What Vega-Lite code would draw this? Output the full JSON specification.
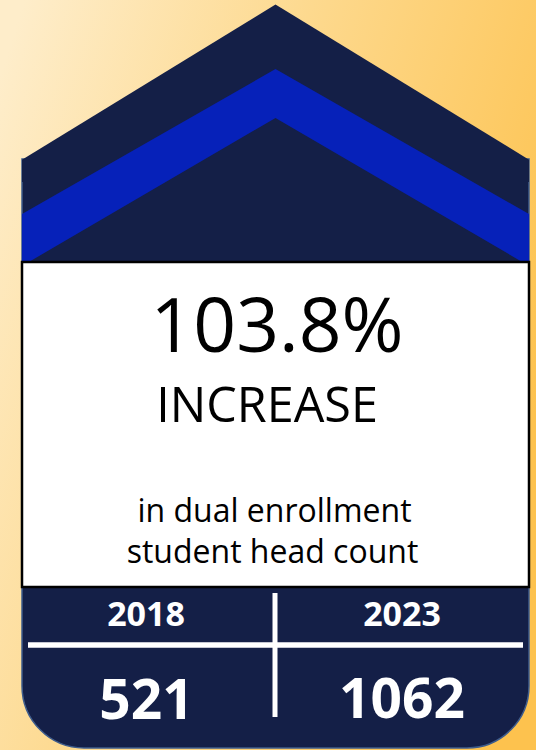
{
  "$schema": "https://vega.github.io/schema/vega-lite/v6.json",
  "width": 536,
  "height": 750,
  "autosize": {"type": "fit", "contains": "padding"},
  "padding": 0,
  "background": "#fde2a8",
  "config": {
    "view": {"stroke": null},
    "axis": {"disable": true},
    "text": {"font": "Open Sans"}
  },
  "datasets": {
    "summary": [{"metric": "dual enrollment head count increase", "pct": 1.038}],
    "counts": [
      {"year": "2018", "count": 521},
      {"year": "2023", "count": 1062}
    ]
  },
  "data": {"name": "summary"},
  "layer": [
    {
      "mark": {
        "type": "rect",
        "color": {
          "gradient": "linear",
          "x1": 0, "y1": 0.1, "x2": 1, "y2": 0.55,
          "stops": [
            {"offset": 0, "color": "#feedca"},
            {"offset": 0.45, "color": "#fdd98e"},
            {"offset": 1, "color": "#fdc24e"}
          ]
        }
      },
      "encoding": {
        "x": {"datum": 0, "type": "quantitative", "scale": {"domain": [0, 536], "nice": false, "zero": false}},
        "x2": {"datum": 536},
        "y": {"datum": 0, "type": "quantitative", "scale": {"domain": [0, 750], "nice": false, "zero": false, "reverse": true}},
        "y2": {"datum": 750}
      }
    },
    {
      "mark": {
        "type": "rect",
        "fill": "#141f47",
        "stroke": "#3e5c8c",
        "strokeWidth": 1.5,
        "cornerRadiusBottomLeft": 62,
        "cornerRadiusBottomRight": 62
      },
      "encoding": {
        "x": {"datum": 22, "type": "quantitative"},
        "x2": {"datum": 529},
        "y": {"datum": 159, "type": "quantitative"},
        "y2": {"datum": 748}
      }
    },
    {
      "mark": {
        "type": "point",
        "shape": "M-1,0.612L0,0L1,0.612L1,0.7L-1,0.7Z",
        "size": 257049,
        "filled": true,
        "fill": "#141f47",
        "strokeWidth": 0,
        "opacity": 1
      },
      "encoding": {
        "x": {"datum": 275.5, "type": "quantitative"},
        "y": {"datum": 4.5, "type": "quantitative"}
      }
    },
    {
      "mark": {
        "type": "point",
        "shape": "M-1,0.572L0,0L1,0.572L1,0.777L0,0.193L-1,0.777Z",
        "size": 257049,
        "filled": true,
        "fill": "#0621b9",
        "strokeWidth": 0,
        "opacity": 1
      },
      "encoding": {
        "x": {"datum": 275.5, "type": "quantitative"},
        "y": {"datum": 69, "type": "quantitative"}
      }
    },
    {
      "mark": {"type": "rect", "fill": "#ffffff", "stroke": "#000000", "strokeWidth": 2.5},
      "encoding": {
        "x": {"datum": 22, "type": "quantitative"},
        "x2": {"datum": 529},
        "y": {"datum": 262, "type": "quantitative"},
        "y2": {"datum": 587}
      }
    },
    {
      "mark": {"type": "text", "fontSize": 75, "baseline": "alphabetic", "align": "center", "color": "#000000"},
      "encoding": {
        "x": {"datum": 277, "type": "quantitative"},
        "y": {"datum": 352, "type": "quantitative"},
        "text": {"field": "pct", "type": "quantitative", "format": ".1%"}
      }
    },
    {
      "mark": {"type": "text", "text": "INCREASE", "fontSize": 48.5, "baseline": "alphabetic", "align": "center", "color": "#000000"},
      "encoding": {
        "x": {"datum": 267, "type": "quantitative"},
        "y": {"datum": 422, "type": "quantitative"}
      }
    },
    {
      "mark": {"type": "text", "text": "in dual enrollment", "fontSize": 32, "baseline": "alphabetic", "align": "center", "color": "#000000"},
      "encoding": {
        "x": {"datum": 274.5, "type": "quantitative"},
        "y": {"datum": 522, "type": "quantitative"}
      }
    },
    {
      "mark": {"type": "text", "text": "student head count", "fontSize": 32, "baseline": "alphabetic", "align": "center", "color": "#000000"},
      "encoding": {
        "x": {"datum": 272.5, "type": "quantitative"},
        "y": {"datum": 563, "type": "quantitative"}
      }
    },
    {
      "mark": {"type": "rule", "color": "#ffffff", "strokeWidth": 5.5},
      "encoding": {
        "x": {"datum": 28, "type": "quantitative"},
        "x2": {"datum": 523},
        "y": {"datum": 645, "type": "quantitative"}
      }
    },
    {
      "mark": {"type": "rule", "color": "#ffffff", "strokeWidth": 5},
      "encoding": {
        "x": {"datum": 275, "type": "quantitative"},
        "y": {"datum": 593, "type": "quantitative"},
        "y2": {"datum": 717}
      }
    },
    {
      "data": {"name": "counts"},
      "transform": [{"filter": "datum.year === '2018'"}],
      "mark": {"type": "text", "fontSize": 34, "fontWeight": "bold", "baseline": "alphabetic", "align": "center", "color": "#ffffff"},
      "encoding": {
        "x": {"datum": 146, "type": "quantitative"},
        "y": {"datum": 626, "type": "quantitative"},
        "text": {"field": "year", "type": "nominal"}
      }
    },
    {
      "data": {"name": "counts"},
      "transform": [{"filter": "datum.year === '2023'"}],
      "mark": {"type": "text", "fontSize": 34, "fontWeight": "bold", "baseline": "alphabetic", "align": "center", "color": "#ffffff"},
      "encoding": {
        "x": {"datum": 402, "type": "quantitative"},
        "y": {"datum": 626, "type": "quantitative"},
        "text": {"field": "year", "type": "nominal"}
      }
    },
    {
      "data": {"name": "counts"},
      "transform": [{"filter": "datum.year === '2018'"}],
      "mark": {"type": "text", "fontSize": 55, "fontWeight": "bold", "baseline": "alphabetic", "align": "center", "color": "#ffffff"},
      "encoding": {
        "x": {"datum": 146.5, "type": "quantitative"},
        "y": {"datum": 719, "type": "quantitative"},
        "text": {"field": "count", "type": "quantitative", "format": "d"}
      }
    },
    {
      "data": {"name": "counts"},
      "transform": [{"filter": "datum.year === '2023'"}],
      "mark": {"type": "text", "fontSize": 55, "fontWeight": "bold", "baseline": "alphabetic", "align": "center", "color": "#ffffff"},
      "encoding": {
        "x": {"datum": 402, "type": "quantitative"},
        "y": {"datum": 718, "type": "quantitative"},
        "text": {"field": "count", "type": "quantitative", "format": "d"}
      }
    }
  ]
}
